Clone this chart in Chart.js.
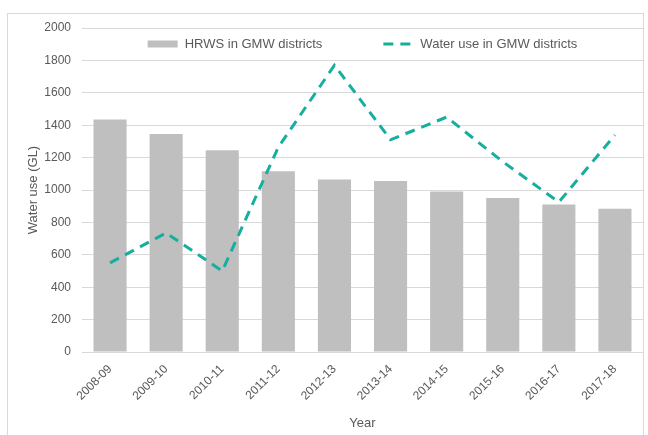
<!DOCTYPE html>
<html>
<head>
<meta charset="utf-8">
<script src="https://cdn.jsdelivr.net/npm/chart.js@4.4.0/dist/chart.umd.min.js"></script>
<style>
  html, body { margin: 0; padding: 0; background: #fff; }
  #wrap { position: relative; width: 648px; height: 435px; overflow: hidden; }
  #frame { position: absolute; left: 7px; top: 13px; width: 637px; height: 440px; border: 1px solid #d9d9d9; box-sizing: border-box; }
  #chart { position: absolute; left: 0; top: 0; }
</style>
</head>
<body>
<div id="wrap">
  <div id="frame"></div>
  <canvas id="chart" width="648" height="435"></canvas>
</div>
<script>
const years = ['2008-09', '2009-10', '2010-11', '2011-12', '2012-13', '2013-14', '2014-15', '2015-16', '2016-17', '2017-18'];
const hrws = [1435, 1345, 1245, 1115, 1065, 1055, 990, 950, 910, 885];
const waterUse = [550, 735, 500, 1265, 1770, 1310, 1450, 1175, 925, 1340];
const yTicks = { min: 0, max: 2000, step: 200 };

const FONT = "'Liberation Sans', Arial, sans-serif";
const TEXT = '#595959';

// Legend drawn inside the plot area, centered, like the Excel original
const innerLegend = {
    id: 'innerLegend',
    afterDraw(chart) {
        const ctx = chart.ctx;
        const area = chart.chartArea;
        const sw = 30, gap = 7, itemGap = 61;
        ctx.save();
        ctx.font = '13px ' + FONT;
        const items = chart.data.datasets.map(ds => ({ ds, w: sw + gap + ctx.measureText(ds.label).width }));
        const total = items.reduce((s, it) => s + it.w, 0) + itemGap * (items.length - 1);
        let x = (area.left + area.right) / 2 - total / 2;
        const y = area.top + 16;
        items.forEach(it => {
            const ds = it.ds;
            if (ds.type === 'line') {
                ctx.strokeStyle = ds.borderColor;
                ctx.lineWidth = ds.borderWidth;
                ctx.setLineDash(ds.borderDash);
                ctx.beginPath();
                ctx.moveTo(x, y);
                ctx.lineTo(x + sw, y);
                ctx.stroke();
                ctx.setLineDash([]);
            } else {
                ctx.fillStyle = ds.backgroundColor;
                ctx.fillRect(x, y - 3.5, sw, 7);
            }
            ctx.fillStyle = TEXT;
            ctx.textBaseline = 'middle';
            ctx.fillText(ds.label, x + sw + gap, y);
            x += it.w + itemGap;
        });
        ctx.restore();
    }
};

new Chart(document.getElementById('chart'), {
    data: {
        labels: years,
        datasets: [
            {
                type: 'bar',
                label: 'HRWS in GMW districts',
                data: hrws,
                backgroundColor: '#bfbfbf',
                categoryPercentage: 1,
                barPercentage: 0.59,
                order: 2
            },
            {
                type: 'line',
                label: 'Water use in GMW districts',
                data: waterUse,
                borderColor: '#15ae9f',
                borderWidth: 3,
                borderDash: [10, 7],
                pointRadius: 0,
                tension: 0,
                fill: false,
                order: 1
            }
        ]
    },
    plugins: [innerLegend],
    options: {
        responsive: false,
        animation: false,
        layout: { padding: { left: 0, right: 5, top: 28, bottom: 0 } },
        plugins: {
            legend: { display: false },
            tooltip: { enabled: false }
        },
        scales: {
            x: {
                grid: { display: false },
                border: { display: false },
                ticks: { color: TEXT, font: { family: FONT, size: 12 }, minRotation: 45, maxRotation: 45, padding: 2 },
                title: { display: true, text: 'Year', color: TEXT, font: { family: FONT, size: 13 }, padding: { top: 4, bottom: 4 } },
                afterFit: (scale) => { scale.height = 83; }
            },
            y: {
                min: yTicks.min,
                max: yTicks.max,
                grid: { color: '#d9d9d9', drawTicks: false },
                border: { display: false },
                ticks: { stepSize: yTicks.step, color: TEXT, font: { family: FONT, size: 12 }, padding: 11, callback: (v) => String(v) },
                title: { display: true, text: 'Water use (GL)', color: TEXT, font: { family: FONT, size: 13 }, padding: { top: 26, bottom: 0 } },
                afterFit: (scale) => { scale.width = 82; }
            }
        }
    }
});
</script>
</body>
</html>
